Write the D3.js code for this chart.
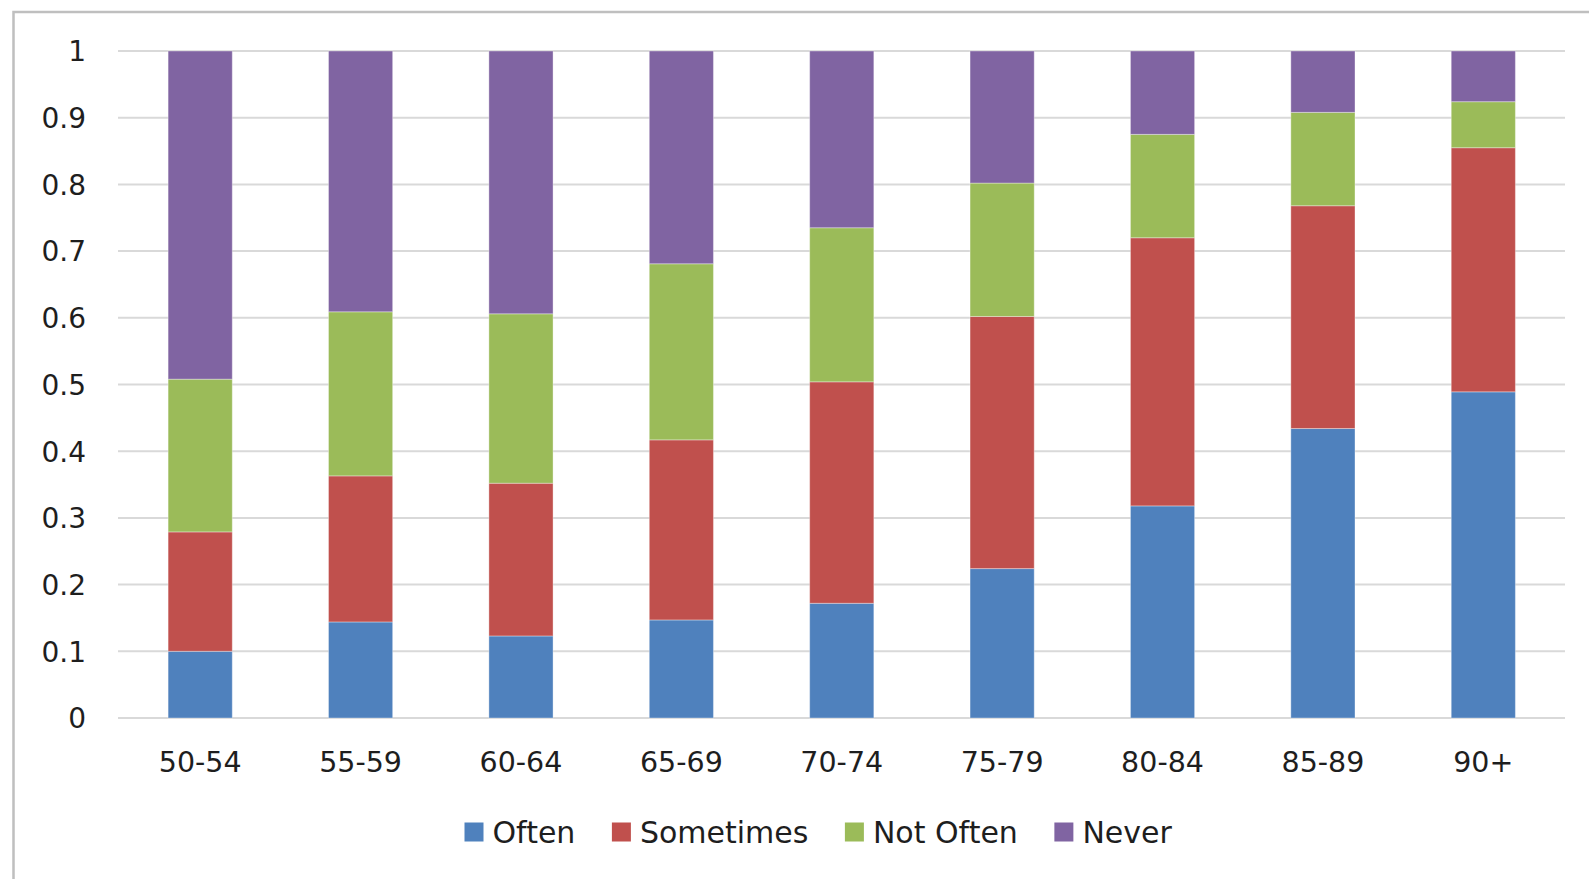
<!DOCTYPE html>
<html>
<head>
<meta charset="utf-8">
<script src="https://cdn.jsdelivr.net/npm/d3@7"></script>
<style>
  html, body { margin: 0; padding: 0; background: #fff; }
  svg { display: block; }
  text { font-family: "DejaVu Sans", sans-serif; fill: #1e1e1e; }
</style>
</head>
<body>
<svg id="chart" width="1589" height="879"></svg>
<script>
const categories = ["50-54", "55-59", "60-64", "65-69", "70-74", "75-79", "80-84", "85-89", "90+"];
const seriesNames = ["Often", "Sometimes", "Not Often", "Never"];
const often     = [0.100, 0.144, 0.123, 0.147, 0.172, 0.224, 0.318, 0.434, 0.489];
const sometimes = [0.179, 0.219, 0.229, 0.270, 0.332, 0.378, 0.402, 0.334, 0.366];
const notOften  = [0.229, 0.246, 0.254, 0.264, 0.231, 0.200, 0.155, 0.140, 0.069];
const never     = [0.492, 0.391, 0.394, 0.319, 0.265, 0.198, 0.125, 0.092, 0.076];
const yTicks = [0, 0.1, 0.2, 0.3, 0.4, 0.5, 0.6, 0.7, 0.8, 0.9, 1];
const yTickLabels = ["0", "0.1", "0.2", "0.3", "0.4", "0.5", "0.6", "0.7", "0.8", "0.9", "1"];
const colors = ["#4f81bd", "#c0504d", "#9bbb59", "#8064a2"];

const rows = categories.map((c, i) => ({
  cat: c, "Often": often[i], "Sometimes": sometimes[i], "Not Often": notOften[i], "Never": never[i]
}));

const svg = d3.select("#chart");

// outer chart frame (partially clipped by viewport)
svg.append("rect")
  .attr("x", 13.5).attr("y", 12)
  .attr("width", 1700).attr("height", 1000)
  .attr("fill", "none").attr("stroke", "#bfbfbf").attr("stroke-width", 2.5);

const x = d3.scaleBand().domain(categories).range([120, 1563.5]).paddingInner(0.6).paddingOuter(0.3);
const y = d3.scaleLinear().domain([0, 1]).range([718, 51]);

// gridlines
svg.append("g").selectAll("line").data(yTicks).join("line")
  .attr("x1", 118).attr("x2", 1565)
  .attr("y1", d => y(d)).attr("y2", d => y(d))
  .attr("stroke", "#d9d9d9").attr("stroke-width", 2);

// y axis labels
const yAxis = d3.axisLeft(y).tickValues(yTicks).tickFormat((d, i) => yTickLabels[i]).tickSize(0).tickPadding(0);
const yg = svg.append("g").attr("transform", "translate(86,0)").call(yAxis);
yg.select(".domain").remove();
yg.selectAll("text").style("font-size", "28px").attr("fill", "#1e1e1e").attr("dy", "0.35em").attr("x", 0);

// x axis labels
const xAxis = d3.axisBottom(x).tickSize(0).tickPadding(0);
const xg = svg.append("g").attr("transform", "translate(0,718)").call(xAxis);
xg.select(".domain").remove();
xg.selectAll("text").style("font-size", "28.5px").attr("fill", "#1e1e1e").attr("y", 54).attr("dy", "0");

// stacked bars
const stack = d3.stack().keys(seriesNames);
const layers = stack(rows);
svg.append("g").selectAll("g").data(layers).join("g")
  .attr("fill", (d, i) => colors[i])
  .selectAll("rect").data(d => d).join("rect")
  .attr("x", d => x(d.data.cat))
  .attr("width", x.bandwidth())
  .attr("y", d => y(d[1]))
  .attr("height", d => y(d[0]) - y(d[1]))
  .attr("stroke", "rgba(255,255,255,0.35)").attr("stroke-width", 1);

// legend
const legend = svg.append("g").attr("transform", "translate(464.5,832)");
let cx = 0;
seriesNames.forEach((name, i) => {
  const g = legend.append("g").attr("transform", `translate(${cx},0)`);
  g.append("rect").attr("x", 0).attr("y", -9.5).attr("width", 19).attr("height", 19).attr("fill", colors[i]);
  const t = g.append("text").attr("x", 28).attr("y", 0).attr("dy", "0.36em")
    .style("font-size", "30px").text(name);
  const w = t.node().getComputedTextLength();
  cx += 28 + w + 36.5;
});
</script>
</body>
</html>
